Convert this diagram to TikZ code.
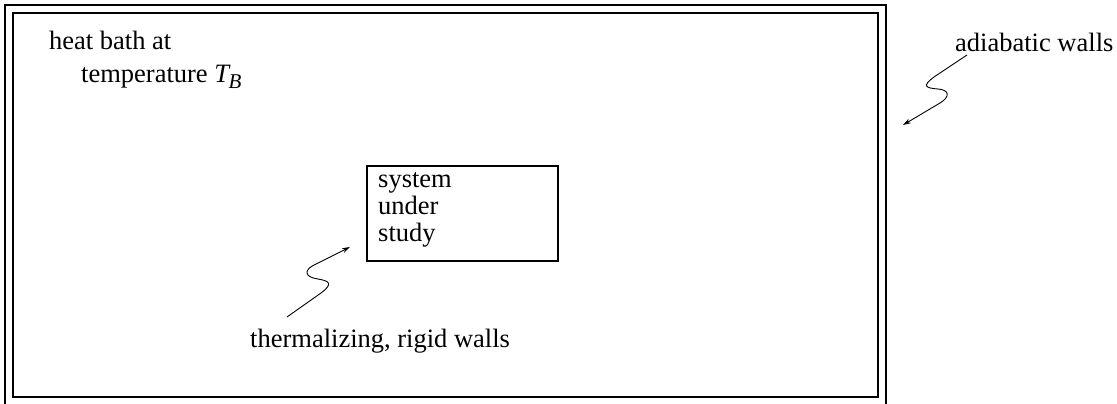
\documentclass[tikz,border=0pt]{standalone}
\usepackage{fontspec}
\setmainfont{Liberation Serif}
\usetikzlibrary{arrows.meta}
\begin{document}
\begin{tikzpicture}[x=1pt,y=-1pt,
  lbl/.style={anchor=base west,inner sep=0pt,font=\fontsize{26.5}{27}\selectfont},
  wall/.style={draw,line width=1.4pt,inner sep=0pt},
  squig/.style={line width=0.9pt,-{Stealth[length=8pt,width=5pt]}}]
\useasboundingbox (0,0) rectangle (1117,404);
% walls
\node[wall,minimum width=881,minimum height=406] (outer) at (445.5,208) {};
\node[wall,minimum width=865,minimum height=384] (inner) at (445.5,205) {};
\node[draw,line width=1.2pt,inner sep=0pt,minimum width=191,minimum height=95] (sys) at (462.5,213.5) {};
% texts
\node[lbl] (hb) at (49,50) {heat bath at};
\node[lbl] (tb) at (81,82) {temperature {\itshape T\kern-0.5pt\raisebox{-6.5pt}{\fontsize{21}{21}\selectfont B}}};
\node[lbl] (s1) at (378,187) {system};
\node[lbl] (s2) at (378,214) {under};
\node[lbl] (s3) at (378,241) {study};
\node[lbl] (aw) at (955,52) {adiabatic walls};
\node[lbl] (tw) at (250,347) {thermalizing, rigid walls};
% squiggle arrows
\coordinate (a0) at (967,55);
\coordinate (a1) at (903,125);
\draw[squig] (a0) -- (934,77) .. controls (922,86) and (925,88) .. (938,89)
  .. controls (950,90) and (950,97) .. (940,103) -- (a1);
\coordinate (t0) at (287,317);
\coordinate (t1) at (350,247);
\draw[squig] (t0) -- (321,293) .. controls (333,284) and (330,281) .. (318,279)
  .. controls (304,277) and (304,270) .. (314,265) -- (t1);
\end{tikzpicture}
\end{document}
